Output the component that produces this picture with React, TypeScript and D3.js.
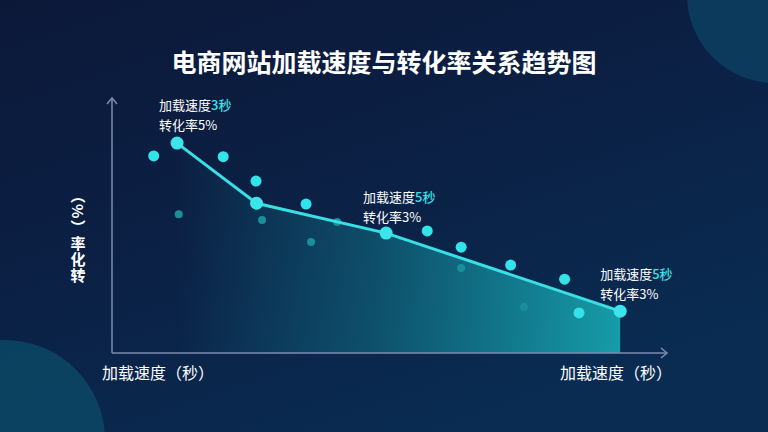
import { useEffect, useRef } from "react";
import * as d3 from "d3";

const W = 768;
const H = 432;

// load time (x, arbitrary seconds scale) vs conversion rate (%)
const trendX = [1.17, 2.6, 4.93, 9.14];
const trendY = [4.92, 3.51, 2.81, 0.98];

const brightX = [0.75, 2.0, 2.59, 3.49, 5.67, 6.28, 7.17, 8.14, 8.4];
const brightY = [4.62, 4.6, 4.03, 3.49, 2.86, 2.48, 2.06, 1.73, 0.94];

const dimX = [1.2, 2.7, 3.58, 4.05, 6.28, 7.41];
const dimY = [3.25, 3.12, 2.6, 3.07, 1.99, 1.08];

const callouts = [
  { i: 0, speed: "3秒", rate: "转化率5%" },
  { i: 2, speed: "5秒", rate: "转化率3%" },
  { i: 3, speed: "5秒", rate: "转化率3%" },
];

const FONT = "'Noto Sans CJK SC', 'Noto Sans', sans-serif";

export default function App() {
  const ref = useRef<SVGSVGElement>(null);

  useEffect(() => {
    const svg = d3.select(ref.current!);
    svg.selectAll("*").remove();

    const x = d3.scaleLinear().domain([0, 10]).range([112, 668]);
    const y = d3.scaleLinear().domain([0, 6]).range([353, 97]);

    const defs = svg.append("defs");
    const bg = defs
      .append("linearGradient")
      .attr("id", "bg")
      .attr("x1", "0")
      .attr("y1", "0")
      .attr("x2", "0.6")
      .attr("y2", "1");
    bg.append("stop").attr("offset", "0").attr("stop-color", "#0c1838");
    bg.append("stop").attr("offset", "0.6").attr("stop-color", "#0b2247");
    bg.append("stop").attr("offset", "1").attr("stop-color", "#0a2c52");

    const areaGrad = defs
      .append("linearGradient")
      .attr("id", "areaGrad")
      .attr("gradientUnits", "userSpaceOnUse")
      .attr("x1", x(trendX[0]))
      .attr("y1", 0)
      .attr("x2", x(trendX[trendX.length - 1]))
      .attr("y2", 0);
    areaGrad.append("stop").attr("offset", "0").attr("stop-color", "#14a0aa").attr("stop-opacity", 0);
    areaGrad.append("stop").attr("offset", "0.45").attr("stop-color", "#14a0aa").attr("stop-opacity", 0.35);
    areaGrad.append("stop").attr("offset", "1").attr("stop-color", "#18b0b8").attr("stop-opacity", 0.85);

    svg.append("rect").attr("width", W).attr("height", H).attr("fill", "url(#bg)");

    // decorative circles
    svg.append("circle").attr("cx", 775).attr("cy", -5).attr("r", 88).attr("fill", "#0b4163").attr("opacity", 0.8);
    svg.append("circle").attr("cx", 5).attr("cy", 440).attr("r", 100).attr("fill", "#0b4a66").attr("opacity", 0.8);

    // title
    svg
      .append("text")
      .attr("x", W / 2)
      .attr("y", 72)
      .attr("text-anchor", "middle")
      .attr("fill", "#ffffff")
      .attr("font-family", FONT)
      .attr("font-weight", 700)
      .attr("font-size", 25)
      .text("电商网站加载速度与转化率关系趋势图");

    const pts: [number, number][] = trendX.map((v, i) => [v, trendY[i]]);

    // area under trend
    const area = d3
      .area<[number, number]>()
      .x((d) => x(d[0]))
      .y0(y(0))
      .y1((d) => y(d[1]));
    svg.append("path").datum(pts).attr("d", area).attr("fill", "url(#areaGrad)");

    // axes
    const axisColor = "#7c8db0";
    const ax = svg.append("g").attr("stroke", axisColor).attr("stroke-width", 1.5).attr("fill", "none");
    ax.append("line").attr("x1", x(0)).attr("y1", y(0)).attr("x2", x(0)).attr("y2", 98);
    ax.append("path").attr("d", `M${x(0) - 5},${104} L${x(0)},${98} L${x(0) + 5},${104}`);
    ax.append("line").attr("x1", x(0)).attr("y1", y(0)).attr("x2", 667).attr("y2", y(0));
    ax.append("path").attr("d", `M661,${y(0) - 5} L667,${y(0)} L661,${y(0) + 5}`);

    // dim dots
    svg
      .append("g")
      .selectAll("circle")
      .data(dimX.map((v, i) => [v, dimY[i]]))
      .join("circle")
      .attr("cx", (d) => x(d[0]))
      .attr("cy", (d) => y(d[1]))
      .attr("r", 4)
      .attr("fill", "#1a8f9c");

    // trend line
    const line = d3
      .line<[number, number]>()
      .x((d) => x(d[0]))
      .y((d) => y(d[1]));
    svg
      .append("path")
      .datum(pts)
      .attr("d", line)
      .attr("fill", "none")
      .attr("stroke", "#38e0e6")
      .attr("stroke-width", 3);

    // bright dots
    svg
      .append("g")
      .selectAll("circle")
      .data(brightX.map((v, i) => [v, brightY[i]]))
      .join("circle")
      .attr("cx", (d) => x(d[0]))
      .attr("cy", (d) => y(d[1]))
      .attr("r", 5.5)
      .attr("fill", "#33e3ea");

    svg
      .append("g")
      .selectAll("circle")
      .data(pts)
      .join("circle")
      .attr("cx", (d) => x(d[0]))
      .attr("cy", (d) => y(d[1]))
      .attr("r", 6.5)
      .attr("fill", "#3ae6ec");

    // callouts
    const labelOffsets = [
      [-18, -33],
      [-23, -31],
      [-20, -32],
    ];
    callouts.forEach((c, k) => {
      const px = x(trendX[c.i]) + labelOffsets[k][0];
      const py = y(trendY[c.i]) + labelOffsets[k][1];
      const t1 = svg
        .append("text")
        .attr("x", px)
        .attr("y", py)
        .attr("font-family", FONT)
        .attr("font-size", 13)
        .attr("fill", "#ffffff");
      t1.append("tspan").text("加载速度");
      t1.append("tspan").attr("fill", "#3ee0e8").attr("font-weight", 500).text(c.speed);
      svg
        .append("text")
        .attr("x", px)
        .attr("y", py + 19.5)
        .attr("font-family", FONT)
        .attr("font-size", 13)
        .attr("fill", "#ffffff")
        .text(c.rate);
    });

    // x-axis labels
    [102, 560].forEach((px) => {
      svg
        .append("text")
        .attr("x", px)
        .attr("y", 379)
        .attr("font-family", FONT)
        .attr("font-size", 16)
        .attr("fill", "#ffffff")
        .text("加载速度（秒）");
    });

    // y-axis label, vertical writing
    svg
      .append("text")
      .attr("x", 78)
      .attr("y", 188)
      .attr("font-family", FONT)
      .attr("font-size", 15)
      .attr("font-weight", 700)
      .attr("fill", "#ffffff")
      .style("writing-mode", "vertical-rl")
      .style("letter-spacing", "1px")
      .text("（%）率化转");
  }, []);

  return (
    <svg
      ref={ref}
      width={W}
      height={H}
      style={{ position: "absolute", left: 0, top: 0, display: "block" }}
    />
  );
}
